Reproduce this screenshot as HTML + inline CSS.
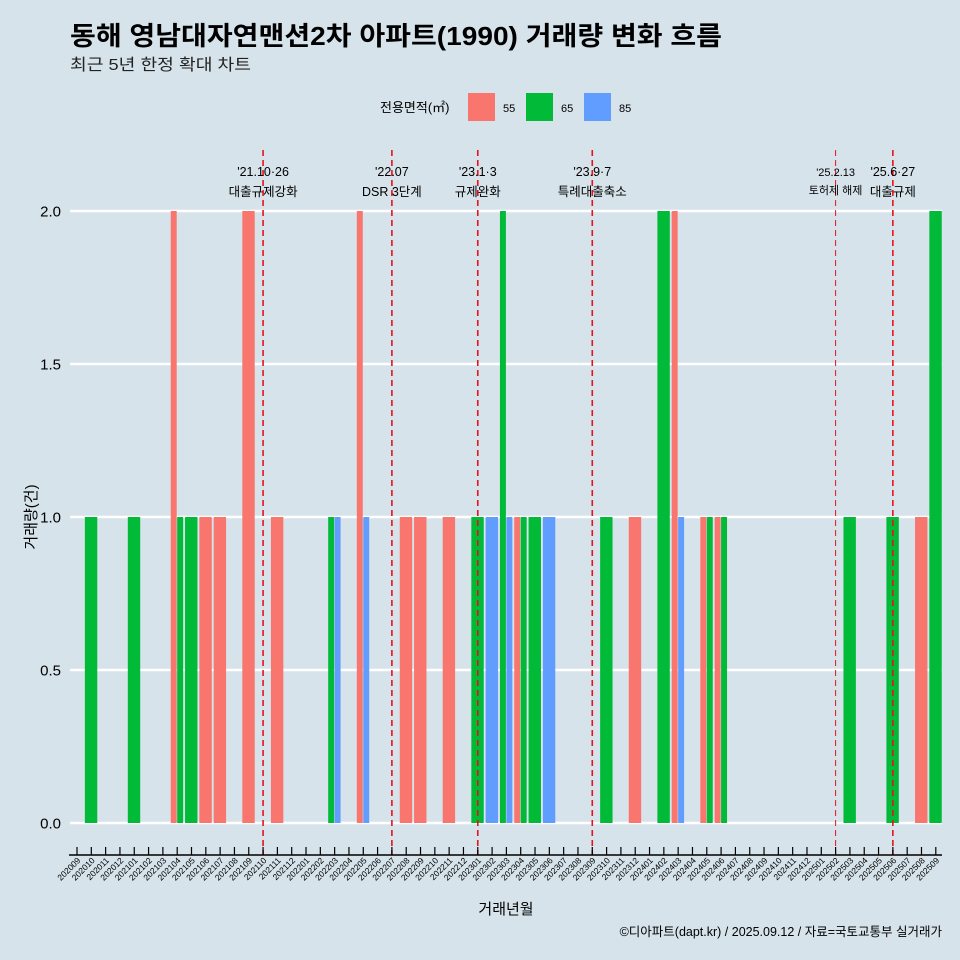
<!DOCTYPE html>
<html><head><meta charset="utf-8"><style>
html,body{margin:0;padding:0;background:#d6e3ea;}
svg{display:block;font-family:"Liberation Sans","Noto Sans CJK KR",sans-serif;}
</style></head><body>
<svg id="c" width="960" height="960" viewBox="0 0 960 960" xmlns="http://www.w3.org/2000/svg">
<rect x="0" y="0" width="960" height="960" fill="#d6e3ea"/>
<text x="70" y="45" font-size="26" font-weight="bold" fill="#000" textLength="652" lengthAdjust="spacingAndGlyphs">동해 영남대자연맨션2차 아파트(1990) 거래량 변화 흐름</text>
<text x="70" y="70" font-size="16" fill="#222" textLength="181" lengthAdjust="spacingAndGlyphs">최근 5년 한정 확대 차트</text>
<g>
<text x="380" y="112" font-size="13" fill="#000">전용면적(㎡)</text>
<rect x="468" y="93" width="27" height="28" fill="#F8766D"/>
<text x="503" y="112" font-size="11">55</text>
<rect x="526" y="93" width="27" height="28" fill="#00BA38"/>
<text x="561" y="112" font-size="11">65</text>
<rect x="584" y="93" width="27" height="28" fill="#619CFF"/>
<text x="619" y="112" font-size="11">85</text>
</g>
<g id="grid"></g><g id="bars"></g><g id="events"></g><g id="axes"></g>
<text x="506" y="914" font-size="15" text-anchor="middle">거래년월</text>
<text transform="translate(36,517) rotate(-90)" font-size="15" text-anchor="middle">거래량(건)</text>
<text x="942" y="936" font-size="12.5" text-anchor="end">©디아파트(dapt.kr) / 2025.09.12 / 자료=국토교통부 실거래가</text>
</svg>
<script>
const months=[];for(let y=2020,m=9;!(y===2025&&m===10);){months.push(''+y+(m<10?'0':'')+m);m++;if(m>12){m=1;y++;}}
const areas=['55','65','85'];
const s55={'202104':2,'202106':1,'202107':1,'202109':2,'202111':1,'202205':2,'202208':1,'202209':1,'202211':1,'202304':1,'202312':1,'202403':2,'202405':1,'202406':1,'202508':1};
const s65={'202010':1,'202101':1,'202104':1,'202105':1,'202203':1,'202301':1,'202303':2,'202304':1,'202305':1,'202310':1,'202402':2,'202405':1,'202406':1,'202503':1,'202506':1,'202509':2};
const s85={'202203':1,'202205':1,'202302':1,'202303':1,'202306':1,'202403':1};
const yTicks=[0,0.5,1,1.5,2];
const yTickLabels=['0.0','0.5','1.0','1.5','2.0'];
const eventMonths=['202110','202207','202301','202309','202502','202506'];
const eventDates=["'21.10·26","'22.07","'23.1·3","'23.9·7","'25.2.13","'25.6·27"];
const eventNames=['대출규제강화','DSR 3단계','규제완화','특례대출축소','토허제 해제','대출규제'];
const colors={'55':'#F8766D','65':'#00BA38','85':'#619CFF'};
const series={'55':s55,'65':s65,'85':s85};
const NS='http://www.w3.org/2000/svg';
const x0=77,step=(935.8-77)/60,bw=12.9;
const xs=i=>x0+i*step;
const ys=v=>823-v*306;
function mk(tag,attrs,parent,txt){const e=document.createElementNS(NS,tag);for(const k in attrs)e.setAttribute(k,attrs[k]);if(txt!==undefined)e.textContent=txt;parent.appendChild(e);return e;}
const grid=document.getElementById('grid'),bars=document.getElementById('bars'),ev=document.getElementById('events'),ax=document.getElementById('axes');
yTicks.forEach((t,i)=>{
 const l=mk('line',{x1:70,x2:942,y1:ys(t),y2:ys(t),stroke:'#fff','stroke-width':2.6},grid);
 
 
 const tx=mk('text',{x:61,y:ys(t)+5.5,'font-size':15,'text-anchor':'end'},ax,yTickLabels[i]);
 
 
});
months.forEach((m,i)=>{
 const present=areas.filter(a=>series[a][m]);
 const w=bw/Math.max(present.length,1);
 present.forEach((a,j)=>{
  const v=series[a][m];
  const r=mk('rect',{x:xs(i)-bw/2+j*w,y:ys(v),width:w-0.5,height:ys(0)-ys(v),fill:colors[a]},bars);
  
  
 });
 const tk=mk('line',{x1:xs(i),x2:xs(i),y1:847,y2:855,stroke:'#000','stroke-width':1.2},ax);
 
 
 const lb=mk('text',{transform:`translate(${xs(i)+4},861) rotate(-45)`,'font-size':8.5,'text-anchor':'end'},ax,m);
 
 
});
const axl=mk('line',{x1:69,x2:942,y1:855,y2:855,stroke:'#000','stroke-width':1.4},ax);


eventMonths.forEach((m,k)=>{
 const i=months.indexOf(m);const x=xs(i);const small=m==='202502';
 const l=mk('line',{x1:x,x2:x,y1:150,y2:855,stroke:'#e8121c','stroke-width':small?1:1.6,'stroke-dasharray':'6 4'},ev);
 
 
 const fs=small?11:12.5;
 const t1=mk('text',{x:x,y:176,'font-size':fs,'text-anchor':'middle'},ev,eventDates[k]);
 
 
 const t2=mk('text',{x:x,y:small?194:196,'font-size':fs,'text-anchor':'middle'},ev,eventNames[k]);
 
 
});
</script>
</body></html>
